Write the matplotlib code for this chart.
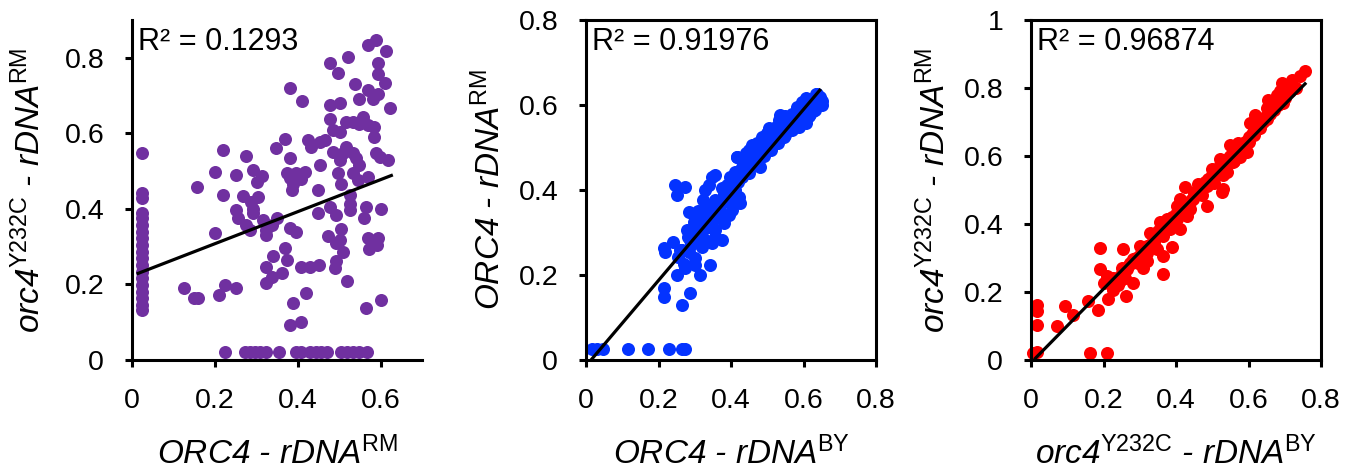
import matplotlib
matplotlib.use("Agg")
import matplotlib.pyplot as plt
import numpy as np

plt.rcParams['font.family'] = ['Liberation Sans', 'DejaVu Sans']
plt.rcParams['mathtext.fontset'] = 'custom'
plt.rcParams['mathtext.rm'] = 'Liberation Sans'
plt.rcParams['mathtext.it'] = 'Liberation Sans:italic'

# ---------------- Panel 1 data: ORC4-rDNA^RM (x) vs orc4^Y232C-rDNA^RM (y)
p1_col_y = [0.548, 0.441, 0.428, 0.390, 0.375, 0.357, 0.340, 0.322, 0.304, 0.287,
            0.269, 0.251, 0.234, 0.216, 0.198, 0.181, 0.163, 0.146, 0.132]
p1_col_x = [0.025] * len(p1_col_y)
p1_bot_x = [0.224, 0.272, 0.284, 0.296, 0.308, 0.324, 0.355, 0.397, 0.409, 0.429,
            0.443, 0.457, 0.471, 0.505, 0.519, 0.533, 0.548, 0.567]
p1_bot_y = [0.02] * len(p1_bot_x)
p1_x = [0.590, 0.569, 0.614, 0.521, 0.477, 0.594, 0.497, 0.594, 0.610, 0.539,
        0.381, 0.569, 0.594, 0.549, 0.582, 0.411, 0.477, 0.501, 0.623, 0.557,
        0.477, 0.517, 0.533, 0.549, 0.569, 0.585, 0.485, 0.501, 0.465, 0.453,
        0.425, 0.585, 0.369, 0.433, 0.220, 0.347, 0.517, 0.485, 0.509, 0.533,
        0.588, 0.275, 0.381, 0.501, 0.541, 0.618, 0.598, 0.453, 0.548, 0.292,
        0.200, 0.373, 0.397, 0.417, 0.252, 0.313, 0.497, 0.533, 0.569, 0.301,
        0.381, 0.409, 0.389, 0.505, 0.545, 0.158, 0.449, 0.385, 0.220, 0.268,
        0.304, 0.525, 0.288, 0.477, 0.525, 0.292, 0.565, 0.602, 0.252, 0.525,
        0.449, 0.292, 0.493, 0.256, 0.561, 0.349, 0.317, 0.276, 0.337, 0.505,
        0.381, 0.284, 0.324, 0.397, 0.200, 0.324, 0.473, 0.569, 0.594, 0.501,
        0.493, 0.591, 0.369, 0.509, 0.573, 0.341, 0.373, 0.493, 0.409, 0.429,
        0.451, 0.324, 0.491, 0.361, 0.337, 0.324, 0.520, 0.224, 0.125, 0.252,
        0.210, 0.421, 0.149, 0.160, 0.600, 0.389, 0.564, 0.409, 0.381]
p1_y = [0.847, 0.833, 0.818, 0.802, 0.787, 0.785, 0.761, 0.758, 0.732, 0.730,
        0.719, 0.714, 0.705, 0.692, 0.692, 0.685, 0.675, 0.679, 0.668, 0.644,
        0.637, 0.631, 0.631, 0.626, 0.622, 0.617, 0.608, 0.604, 0.582, 0.578,
        0.582, 0.591, 0.586, 0.564, 0.557, 0.560, 0.564, 0.551, 0.547, 0.547,
        0.547, 0.540, 0.535, 0.529, 0.534, 0.529, 0.538, 0.516, 0.516, 0.504,
        0.498, 0.496, 0.494, 0.498, 0.489, 0.487, 0.494, 0.494, 0.485, 0.472,
        0.481, 0.478, 0.467, 0.467, 0.476, 0.457, 0.451, 0.450, 0.438, 0.434,
        0.432, 0.437, 0.419, 0.406, 0.414, 0.401, 0.406, 0.401, 0.397, 0.397,
        0.390, 0.388, 0.384, 0.375, 0.375, 0.375, 0.370, 0.357, 0.357, 0.348,
        0.350, 0.344, 0.344, 0.340, 0.335, 0.331, 0.328, 0.322, 0.322, 0.317,
        0.309, 0.304, 0.297, 0.287, 0.295, 0.275, 0.266, 0.263, 0.245, 0.245,
        0.251, 0.245, 0.243, 0.229, 0.220, 0.205, 0.210, 0.198, 0.190, 0.190,
        0.172, 0.178, 0.165, 0.165, 0.160, 0.152, 0.138, 0.101, 0.093]
p1_fit = (0.424, 0.223)          # slope, intercept
p1_fit_range = (0.015, 0.626)
p1_r2 = "R² = 0.1293"

# ---------------- Panel 2 data: ORC4-rDNA^BY (x) vs ORC4-rDNA^RM (y)
p2_x = [0.016, 0.029, 0.048, 0.117, 0.172, 0.228, 0.265, 0.274,
        0.638, 0.647, 0.652, 0.633, 0.619, 0.606, 0.596, 0.582, 0.569, 0.559,
        0.550, 0.536, 0.532, 0.523, 0.513, 0.504, 0.500, 0.486, 0.472, 0.458,
        0.449, 0.440, 0.426, 0.417, 0.449, 0.481, 0.467, 0.430, 0.412, 0.398,
        0.389, 0.375, 0.394, 0.357, 0.347, 0.338, 0.329, 0.324, 0.357, 0.375,
        0.403, 0.421, 0.426, 0.403, 0.394, 0.366, 0.352, 0.338, 0.320, 0.311,
        0.297, 0.283, 0.292, 0.301, 0.324, 0.338, 0.357, 0.380, 0.357, 0.329,
        0.347, 0.375, 0.320, 0.288, 0.278, 0.246, 0.274, 0.251, 0.241, 0.214,
        0.218, 0.265, 0.283, 0.255, 0.269, 0.301, 0.301, 0.251, 0.274, 0.315,
        0.343, 0.214, 0.214, 0.288, 0.265, 0.417, 0.615, 0.569, 0.546, 0.523,
        0.486, 0.467, 0.509, 0.587, 0.606, 0.620, 0.640, 0.590, 0.570, 0.555,
        0.530, 0.510, 0.490, 0.470, 0.455, 0.440, 0.430, 0.600, 0.645, 0.625,
        0.300, 0.310, 0.330, 0.340, 0.350, 0.360, 0.370, 0.380, 0.390, 0.400,
        0.410, 0.420, 0.430, 0.440, 0.450, 0.460, 0.470, 0.480, 0.490, 0.500,
        0.510, 0.520, 0.530, 0.540, 0.550, 0.560, 0.570, 0.580, 0.590, 0.610,
        0.620, 0.630, 0.640, 0.650, 0.635, 0.310, 0.330, 0.290, 0.260, 0.280]
p2_y = [0.025, 0.025, 0.025, 0.025, 0.025, 0.025, 0.025, 0.025,
        0.627, 0.608, 0.600, 0.588, 0.580, 0.616, 0.608, 0.596, 0.580, 0.565,
        0.573, 0.576, 0.565, 0.549, 0.541, 0.545, 0.533, 0.525, 0.510, 0.506,
        0.494, 0.486, 0.475, 0.478, 0.463, 0.455, 0.471, 0.447, 0.443, 0.431,
        0.412, 0.404, 0.400, 0.435, 0.431, 0.412, 0.400, 0.376, 0.376, 0.369,
        0.376, 0.384, 0.369, 0.353, 0.341, 0.337, 0.349, 0.353, 0.337, 0.325,
        0.325, 0.349, 0.306, 0.298, 0.306, 0.314, 0.306, 0.322, 0.290, 0.282,
        0.275, 0.282, 0.267, 0.282, 0.306, 0.412, 0.408, 0.388, 0.278, 0.263,
        0.255, 0.259, 0.255, 0.243, 0.227, 0.239, 0.224, 0.200, 0.216, 0.200,
        0.224, 0.169, 0.149, 0.157, 0.129, 0.477, 0.573, 0.541, 0.525, 0.510,
        0.494, 0.478, 0.494, 0.549, 0.557, 0.600, 0.615, 0.585, 0.565, 0.550,
        0.530, 0.520, 0.505, 0.490, 0.480, 0.470, 0.455, 0.595, 0.620, 0.585,
        0.310, 0.290, 0.330, 0.340, 0.330, 0.360, 0.350, 0.390, 0.380, 0.410,
        0.400, 0.420, 0.430, 0.450, 0.440, 0.460, 0.460, 0.480, 0.480, 0.500,
        0.510, 0.520, 0.510, 0.540, 0.530, 0.560, 0.550, 0.580, 0.570, 0.590,
        0.610, 0.600, 0.600, 0.610, 0.625, 0.350, 0.360, 0.270, 0.260, 0.290]
p2_fit = (1.006, -0.014)
p2_fit_range = (0.014, 0.645)
p2_r2 = "R² = 0.91976"

# ---------------- Panel 3 data: orc4^Y232C-rDNA^BY (x) vs orc4^Y232C-rDNA^RM (y)
p3_x = [0.006, 0.017, 0.163, 0.211, 0.017, 0.017, 0.017, 0.071, 0.094, 0.117,
        0.158, 0.186, 0.189, 0.189, 0.200, 0.211, 0.213, 0.227, 0.246, 0.255,
        0.262, 0.264, 0.282, 0.282, 0.296, 0.301, 0.310, 0.319, 0.328, 0.338,
        0.347, 0.365, 0.365, 0.356, 0.374, 0.384, 0.388, 0.402, 0.411, 0.411,
        0.425, 0.430, 0.439, 0.448, 0.462, 0.471, 0.485, 0.489, 0.499, 0.512,
        0.522, 0.526, 0.540, 0.549, 0.558, 0.572, 0.577, 0.595, 0.604, 0.614,
        0.618, 0.632, 0.650, 0.655, 0.669, 0.678, 0.692, 0.706, 0.719, 0.742,
        0.756, 0.531, 0.503, 0.457, 0.393, 0.338, 0.287, 0.246, 0.227, 0.522,
        0.568, 0.614, 0.641, 0.669, 0.687, 0.632, 0.591, 0.558, 0.485, 0.439,
        0.402, 0.365, 0.319, 0.273, 0.227,
        0.450, 0.470, 0.480, 0.500, 0.510, 0.530, 0.540, 0.550, 0.560, 0.575,
        0.585, 0.600, 0.610, 0.620, 0.630, 0.640, 0.660, 0.670, 0.680, 0.700,
        0.715, 0.730, 0.560, 0.590, 0.530, 0.505, 0.600, 0.650, 0.695,
        0.250, 0.270, 0.290, 0.300, 0.310, 0.330, 0.340, 0.350, 0.360, 0.370,
        0.380, 0.390, 0.400, 0.420, 0.430, 0.440, 0.320, 0.260, 0.240]
p3_y = [0.022, 0.025, 0.022, 0.022, 0.163, 0.143, 0.104, 0.099, 0.158, 0.133,
        0.173, 0.148, 0.267, 0.328, 0.227, 0.247, 0.178, 0.207, 0.232, 0.326,
        0.188, 0.267, 0.227, 0.296, 0.286, 0.336, 0.271, 0.316, 0.375, 0.346,
        0.326, 0.252, 0.306, 0.405, 0.415, 0.385, 0.331, 0.454, 0.385, 0.474,
        0.508, 0.424, 0.444, 0.474, 0.518, 0.484, 0.454, 0.533, 0.563, 0.553,
        0.592, 0.494, 0.553, 0.632, 0.617, 0.637, 0.597, 0.612, 0.696, 0.661,
        0.721, 0.681, 0.740, 0.765, 0.755, 0.780, 0.814, 0.809, 0.824, 0.834,
        0.851, 0.503, 0.523, 0.499, 0.395, 0.365, 0.296, 0.247, 0.217, 0.573,
        0.612, 0.681, 0.711, 0.735, 0.790, 0.701, 0.642, 0.582, 0.513, 0.464,
        0.415, 0.365, 0.336, 0.286, 0.242,
        0.490, 0.510, 0.525, 0.545, 0.560, 0.575, 0.590, 0.600, 0.610, 0.625,
        0.635, 0.655, 0.665, 0.675, 0.690, 0.700, 0.725, 0.740, 0.750, 0.770,
        0.790, 0.800, 0.585, 0.620, 0.545, 0.520, 0.640, 0.710, 0.755,
        0.270, 0.280, 0.300, 0.310, 0.320, 0.340, 0.360, 0.380, 0.380, 0.390,
        0.400, 0.420, 0.430, 0.450, 0.460, 0.470, 0.290, 0.240, 0.220]
p3_fit = (1.085, -0.008)
p3_fit_range = (0.012, 0.756)
p3_r2 = "R² = 0.96874"

colors = ['#7030A0', '#0433FF', '#FF0000']
xlabels = ['ORC4 - rDNA$^{\\mathrm{RM}}$',
           'ORC4 - rDNA$^{\\mathrm{BY}}$',
           'orc4$^{\\mathrm{Y232C}}$ - rDNA$^{\\mathrm{BY}}$']
ylabels = ['orc4$^{\\mathrm{Y232C}}$ - rDNA$^{\\mathrm{RM}}$',
           'ORC4 - rDNA$^{\\mathrm{RM}}$',
           'orc4$^{\\mathrm{Y232C}}$ - rDNA$^{\\mathrm{RM}}$']
xlims = [(0, 0.7), (0, 0.8), (0, 0.8)]
ylims = [(0, 0.9), (0, 0.8), (0, 1.0)]
xticks = [[0, 0.2, 0.4, 0.6], [0, 0.2, 0.4, 0.6, 0.8], [0, 0.2, 0.4, 0.6, 0.8]]
yticks = [[0, 0.2, 0.4, 0.6, 0.8], [0, 0.2, 0.4, 0.6, 0.8], [0, 0.2, 0.4, 0.6, 0.8, 1.0]]

W, H = 1353, 472
fig = plt.figure(figsize=(W / 100, H / 100), dpi=100)
lefts = [132, 586, 1031]
widths = [290, 290, 290]
bottom_px, top_px = 360, 20

datasets = [
    (p1_col_x + p1_bot_x + p1_x, p1_col_y + p1_bot_y + p1_y, p1_fit, p1_fit_range, p1_r2),
    (p2_x, p2_y, p2_fit, p2_fit_range, p2_r2),
    (p3_x, p3_y, p3_fit, p3_fit_range, p3_r2),
]
ylabel_x = [30, 490, 935]

for i, (xs, ys, fit, frange, r2) in enumerate(datasets):
    ax = fig.add_axes([lefts[i] / W, (H - bottom_px) / H,
                       widths[i] / W, (bottom_px - top_px) / H])
    ax.scatter(xs, ys, s=88, color=colors[i], linewidths=0, zorder=2, clip_on=False)
    fx = np.array(frange)
    ax.plot(fx, fit[0] * fx + fit[1], color='black', lw=2.3, zorder=3)
    ax.set_xlim(*xlims[i])
    ax.set_ylim(*ylims[i])
    ax.set_xticks(xticks[i])
    ax.set_yticks(yticks[i])
    ax.set_xticklabels(['{:g}'.format(v) for v in xticks[i]])
    ax.set_yticklabels(['{:g}'.format(v) for v in yticks[i]])
    ax.tick_params(direction='out', length=5, width=2.2, labelsize=20.5, pad=15)
    for sp in ax.spines.values():
        sp.set_linewidth(2.2)
    if i == 0:
        ax.spines['top'].set_visible(False)
        ax.spines['right'].set_visible(False)
    ax.set_xlabel(xlabels[i], fontsize=24, style='italic')
    ax.xaxis.set_label_coords(0.5, -(437 - bottom_px) / (bottom_px - top_px))
    ax.set_ylabel(ylabels[i], fontsize=24, style='italic')
    ax.yaxis.set_label_coords(-(lefts[i] - ylabel_x[i] - 17) / widths[i], 0.5)
    ax.text(0.02, 0.98, r2, transform=ax.transAxes, fontsize=22,
            ha='left', va='top')

fig.savefig('out.png', dpi=100)
